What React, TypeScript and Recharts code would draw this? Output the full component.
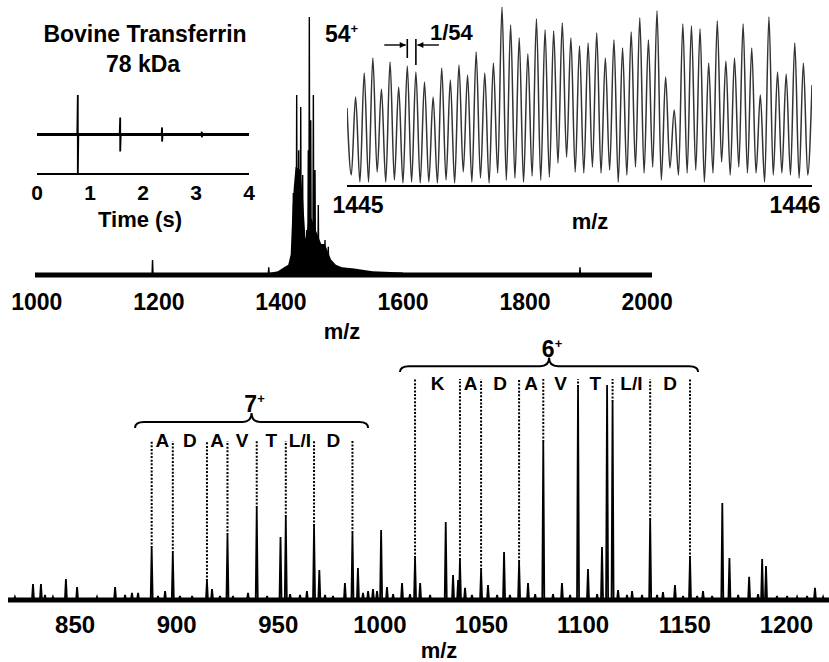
import {
  Area,
  ComposedChart,
  Line,
  LineChart,
  ReferenceArea,
  ReferenceDot,
  ReferenceLine,
  XAxis,
  YAxis,
} from 'recharts'

const W = 829
const H = 662
const FONT = '"Liberation Sans", Arial, Helvetica, sans-serif'

// time-domain transient (s, relative amplitude)
const transientTimes = [0.77, 1.57, 2.36, 3.11]
const transientAmps = [1.0, 0.43, 0.18, 0.07]
const timeTicks = [0, 1, 2, 3, 4]

// broadband spectrum, m/z 1000-2000 (relative intensity)
const fullMz = [1189.6, 1380, 1420.3, 1422.5, 1425.8, 1429.1, 1432.4, 1435.6, 1442.2, 1444.8, 1446.5, 1448.8, 1453.1, 1455.8, 1461.2, 1472.2, 1477.6, 1890]
const fullInt = [5.8, 3, 31.8, 29, 69.8, 48.4, 65.1, 38.8, 17.4, 48.4, 100, 60, 69.8, 40.7, 27.1, 13.6, 10.9, 3]
const envMz = [1380, 1395, 1405, 1412, 1416, 1419, 1421, 1424, 1431, 1436, 1440, 1442, 1444, 1450, 1456, 1461, 1466, 1472, 1477, 1482, 1490, 1500, 1520, 1550, 1600]
const envInt = [0.8, 1.5, 3, 4, 8, 26, 34, 42, 41, 30, 15, 13, 20, 22, 18, 15, 12, 12, 9, 6, 4, 3, 2.5, 1.5, 1]
const fullTicks = [1000, 1200, 1400, 1600, 1800, 2000]

// isotopic fine structure of the 54+ ion, m/z 1445-1446
const fineCharge = 54
const finePeaks = [78, 89, 113, 128, 97, 124, 99, 120, 114, 104, 89, 118, 106, 121, 111, 134, 113, 123, 179, 161, 148, 132, 167, 156, 155, 163, 148, 140, 143, 153, 128, 146, 138, 154, 168, 146, 175, 109, 76, 162, 160, 157, 123, 165, 125, 128, 162, 138, 91, 169, 114, 112, 143, 123, 101]
const fineValleys = [11, 4, 4, 14, 4, 6, 3, 4, 3, 4, 3, 6, 3, 14, 4, 8, 3, 13, 6, 8, 4, 10, 6, 9, 23, 29, 14, 13, 19, 13, 16, 4, 11, 19, 13, 19, 6, 18, 11, 13, 16, 4, 13, 24, 11, 19, 13, 13, 4, 11, 13, 11, 8, 11]
const fineTicks = [1445, 1446]

// fragment spectrum, m/z 817-1221 (relative intensity)
const fragMz = [
  820.4, 829.3, 833.2, 835.2, 839.1, 845.5, 851.0, 860.8, 869.7, 874.6, 878.0, 881.0, 887.7, 890.8, 894.3, 898.1,
  901.6, 907.6, 914.9, 917.4, 921.3, 925.0, 927.7, 935.1, 939.4, 944.5, 951.1, 953.7, 955.8, 960.7, 964.1, 967.6,
  970.2, 973.0, 976.9, 982.8, 986.5, 989.2, 991.7, 994.2, 996.6, 998.6, 1000.6, 1003.5, 1006.5, 1010.9, 1014.8,
  1017.3, 1019.8, 1024.7, 1032.4, 1036.0, 1038.5, 1039.4, 1041.9, 1045.3, 1049.8, 1053.2, 1057.7, 1061.1, 1064.0,
  1068.5, 1072.9, 1076.4, 1080.4, 1085.2, 1089.6, 1093.6, 1097.5, 1102.4, 1106.9, 1109.3, 1111.8, 1114.5, 1117.2,
  1121.6, 1124.1, 1129.0, 1133.0, 1136.4, 1139.3, 1145.2, 1149.2, 1152.6, 1156.1, 1159.0, 1163.5, 1168.5, 1172.0,
  1176.3, 1181.7, 1186.1, 1188.1, 1190.0, 1195.4, 1200.4, 1205.3, 1210.2, 1214.1, 1218.1,
]
const fragInt = [
  1.4, 7.3, 7.3, 2.3, 1.4, 9.5, 5.9, 1.4, 5.9, 2.3, 3.2, 3.2, 23.6, 1.8, 4.1, 21.4,
  1.8, 1.8, 8.6, 5.0, 1.8, 29.5, 1.8, 3.2, 41.8, 1.8, 28.6, 37.7, 2.7, 2.3, 4.1, 33.6,
  13.6, 2.3, 1.8, 7.7, 30.5, 14.5, 3.2, 4.1, 5.0, 4.1, 31.8, 5.9, 2.7, 7.7, 2.7,
  19.1, 7.7, 2.3, 35.5, 11.4, 9.1, 18.2, 5.5, 2.3, 13.6, 6.8, 2.3, 21.8, 2.3,
  17.3, 7.7, 2.7, 71.8, 2.7, 7.7, 2.3, 96.8, 14.1, 2.7, 24.1, 97.7, 90.0, 4.5,
  2.3, 4.1, 2.3, 36.4, 2.3, 3.6, 6.8, 1.8, 19.1, 1.8, 4.1, 1.8, 44.1, 19.1,
  2.3, 10.5, 2.7, 18.6, 15.5, 1.8, 1.8, 1.4, 1.8, 5.5, 1.4,
]
const fragTicks = [850, 900, 950, 1000, 1050, 1100, 1150, 1200]

// sequence ladders read from the fragment peaks
const ladder7Mz = [887.7, 898.1, 914.9, 925.0, 939.4, 953.7, 967.6, 986.5]
const ladder7Res = ['A', 'D', 'A', 'V', 'T', 'L/I', 'D']
const ladder6Mz = [1017.3, 1039.4, 1049.8, 1068.5, 1080.4, 1097.5, 1114.5, 1133.0, 1152.6]
const ladder6Res = ['K', 'A', 'D', 'A', 'V', 'T', 'L/I', 'D']

type Pt = { x: number; y: number }

function sticks(mz: number[], inten: number[], half: number): Pt[] {
  const pts: Pt[] = []
  mz.forEach((m, i) => {
    pts.push({ x: m - half, y: 0 }, { x: m, y: inten[i] }, { x: m + half, y: 0 })
  })
  return pts
}

const trace: { t: number; v: number }[] = [{ t: 0, v: 0 }]
transientTimes.forEach((t, i) => {
  const a = transientAmps[i]
  trace.push({ t: t - 0.01, v: 0 }, { t, v: a }, { t, v: -a }, { t: t + 0.01, v: 0 })
})
trace.push({ t: 4, v: 0 })

const fullSticks = sticks(fullMz, fullInt, 0.8)
const envelope: Pt[] = envMz.map((m, i) => ({ x: m, y: envInt[i] }))

const fineTrace: Pt[] = []
finePeaks.forEach((h, k) => {
  fineTrace.push({ x: 1445 + k / fineCharge, y: h })
  if (k < fineValleys.length) fineTrace.push({ x: 1445 + (k + 0.5) / fineCharge, y: fineValleys[k] })
})

const fragSticks = sticks(fragMz, fragInt, 0.5)
const intensityAt = (m: number) => fragInt[fragMz.indexOf(m)]

const tickText = (dy: number, size: number, shift?: (i: number) => number) => (p: any) => (
  <text
    x={p.x + (shift ? shift(p.index) : 0)}
    y={p.y + dy}
    textAnchor="middle"
    fontFamily={FONT}
    fontWeight="bold"
    fontSize={size}
    fill="#000"
  >
    {p.payload.value}
  </text>
)

// horizontal curly brace with the charge state written over its tip
const brace = (charge: string) => (p: any) => {
  const { x, y, width: w, height: h } = p
  const xm = x + w / 2
  const yMid = y + h * 0.6
  const yBot = y + h
  const r = 9
  const d = `M${x},${yBot} Q${x},${yMid} ${x + r},${yMid} L${xm - r},${yMid} Q${xm},${yMid} ${xm},${y} Q${xm},${yMid} ${xm + r},${yMid} L${x + w - r},${yMid} Q${x + w},${yMid} ${x + w},${yBot}`
  return (
    <g>
      <path d={d} fill="none" stroke="#000" strokeWidth={2} />
      <text x={xm + 3} y={y - 1} textAnchor="middle" fontFamily={FONT} fontWeight="bold" fontSize={23} fill="#000">
        {charge}
        <tspan fontSize={13} dy={-9}>+</tspan>
      </text>
    </g>
  )
}

const residue = (label: string) => (p: any) => (
  <text x={p.cx} y={p.cy} textAnchor="middle" dominantBaseline="central" fontFamily={FONT} fontWeight="bold" fontSize={19} fill="#000">
    {label}
  </text>
)

// spacing marker between two neighbouring isotopic peaks
const spacingBar = (side: 'left' | 'right') => (p: any) => {
  const x = p.x1
  const yTop = Math.min(p.y1, p.y2)
  const yBot = Math.max(p.y1, p.y2)
  const ya = yTop + 6
  const dir = side === 'left' ? -1 : 1
  const tipX = x + dir * 1.5
  const tailX = x + dir * 23
  return (
    <g>
      <line x1={x} y1={yTop} x2={x} y2={yBot} stroke="#000" strokeWidth={1.6} />
      <line x1={tailX} y1={ya} x2={tipX} y2={ya} stroke="#000" strokeWidth={1.4} />
      <path d={`M${tipX},${ya} L${tipX + dir * 6},${ya - 3} L${tipX + dir * 6},${ya + 3} Z`} fill="#000" />
    </g>
  )
}

const labelStyle = { fontFamily: FONT, fontWeight: 'bold' as const, fill: '#000' }

export default function App() {
  const layer = { position: 'absolute' as const, left: 0, top: 0 }
  return (
    <div style={{ position: 'absolute', left: 0, top: 0, width: W, height: H, background: '#fff', overflow: 'hidden' }}>
      {/* broadband spectrum */}
      <div style={layer}>
        <ComposedChart width={W} height={H} margin={{ top: 17, left: 35, right: 177, bottom: 327 }}>
          <XAxis
            type="number"
            dataKey="x"
            domain={[997, 2008]}
            ticks={fullTicks}
            interval={0}
            allowDataOverflow
            axisLine={false}
            tickLine={false}
            tickSize={0}
            tickMargin={0}
            height={60}
            tick={tickText(35, 23)}
          />
          <YAxis hide domain={[0, 100]} allowDataOverflow />
          <ReferenceLine y={0} stroke="#000" strokeWidth={5} />
          <Area data={envelope} dataKey="y" type="linear" stroke="none" fill="#000" fillOpacity={1} dot={false} isAnimationActive={false} />
          <Line data={fullSticks} dataKey="y" type="linear" stroke="#000" strokeWidth={1.4} dot={false} isAnimationActive={false} />
        </ComposedChart>
      </div>

      {/* transient */}
      <div style={layer}>
        <LineChart width={W} height={H} margin={{ top: 95, left: 37, right: 580, bottom: 458 }}>
          <XAxis
            type="number"
            dataKey="t"
            domain={[0, 4]}
            ticks={timeTicks}
            interval={0}
            allowDataOverflow
            axisLine={{ stroke: '#000', strokeWidth: 2 }}
            tickLine={false}
            tickSize={0}
            tickMargin={0}
            height={30}
            tick={tickText(26, 21)}
          />
          <YAxis type="number" domain={[-1, 1]} allowDataOverflow width={0} tick={false} tickLine={false} axisLine={{ stroke: '#000', strokeWidth: 2 }} />
          <ReferenceLine y={0} stroke="#000" strokeWidth={3} />
          <Line data={trace} dataKey="v" type="linear" stroke="#000" strokeWidth={1.8} dot={false} isAnimationActive={false} />
        </LineChart>
      </div>

      {/* isotopic fine structure */}
      <div style={layer}>
        <LineChart width={W} height={H} margin={{ top: 7, left: 347, right: 17, bottom: 436 }}>
          <XAxis
            type="number"
            dataKey="x"
            domain={[1445, 1446]}
            ticks={fineTicks}
            interval={0}
            allowDataOverflow
            axisLine={{ stroke: '#000', strokeWidth: 2 }}
            tickLine={false}
            tickSize={0}
            tickMargin={0}
            height={40}
            tick={tickText(27, 23, (i) => (i === 0 ? 11 : -17))}
          />
          <YAxis hide domain={[0, 179]} allowDataOverflow />
          <Line data={fineTrace} dataKey="y" type="monotoneX" stroke="#333" strokeWidth={1.5} dot={false} isAnimationActive={false} />
          <ReferenceLine segment={[{ x: 1445 + 7 / fineCharge, y: 147 }, { x: 1445 + 7 / fineCharge, y: 128 }]} shape={spacingBar('left')} />
          <ReferenceLine segment={[{ x: 1445 + 8 / fineCharge, y: 147 }, { x: 1445 + 8 / fineCharge, y: 121 }]} shape={spacingBar('right')} />
        </LineChart>
      </div>

      {/* fragment spectrum */}
      <div style={layer}>
        <ComposedChart width={W} height={H} margin={{ top: 340, left: 8, right: 0, bottom: 0 }}>
          <XAxis
            type="number"
            dataKey="x"
            domain={[817, 1221]}
            ticks={fragTicks}
            interval={0}
            allowDataOverflow
            axisLine={false}
            tickLine={false}
            tickSize={0}
            tickMargin={0}
            height={62}
            tick={tickText(33, 24)}
          />
          <YAxis hide domain={[0, 118.2]} allowDataOverflow />
          <ReferenceLine y={0} stroke="#000" strokeWidth={5} />
          <Line data={fragSticks} dataKey="y" type="linear" stroke="#000" strokeWidth={1.8} dot={false} isAnimationActive={false} />

          {ladder7Mz.map((m) => (
            <ReferenceLine key={`d7-${m}`} segment={[{ x: m, y: intensityAt(m) }, { x: m, y: 72.3 }]} stroke="#000" strokeWidth={2} strokeDasharray="2 1.6" />
          ))}
          {ladder6Mz.map((m) => (
            <ReferenceLine key={`d6-${m}`} segment={[{ x: m, y: intensityAt(m) }, { x: m, y: 100.5 }]} stroke="#000" strokeWidth={2} strokeDasharray="2 1.6" />
          ))}
          {ladder7Res.map((r, i) => (
            <ReferenceDot key={`r7-${i}`} x={(ladder7Mz[i] + ladder7Mz[i + 1]) / 2} y={72.7} r={0} shape={residue(r)} />
          ))}
          {ladder6Res.map((r, i) => (
            <ReferenceDot key={`r6-${i}`} x={(ladder6Mz[i] + ladder6Mz[i + 1]) / 2} y={98.4} r={0} shape={residue(r)} />
          ))}
          <ReferenceArea x1={879.5} x2={994.2} y1={78.2} y2={85.0} shape={brace('7')} />
          <ReferenceArea x1={1009.9} x2={1156.6} y1={103.6} y2={110.2} shape={brace('6')} />
        </ComposedChart>
      </div>

      {/* titles and axis names */}
      <svg width={W} height={H} style={{ ...layer, pointerEvents: 'none' }}>
        <text x={145} y={42} textAnchor="middle" fontSize={23} {...labelStyle}>Bovine Transferrin</text>
        <text x={143} y={72} textAnchor="middle" fontSize={23} {...labelStyle}>78 kDa</text>
        <text x={140} y={227} textAnchor="middle" fontSize={22} {...labelStyle}>Time (s)</text>
        <text x={325} y={42} fontSize={23} {...labelStyle}>
          54<tspan fontSize={13} dy={-9}>+</tspan>
        </text>
        <text x={430} y={40} fontSize={22} {...labelStyle}>1/54</text>
        <text x={590} y={229} textAnchor="middle" fontSize={22} {...labelStyle}>m/z</text>
        <text x={342} y={339} textAnchor="middle" fontSize={22} {...labelStyle}>m/z</text>
        <text x={439} y={658} textAnchor="middle" fontSize={22} {...labelStyle}>m/z</text>
      </svg>
    </div>
  )
}
